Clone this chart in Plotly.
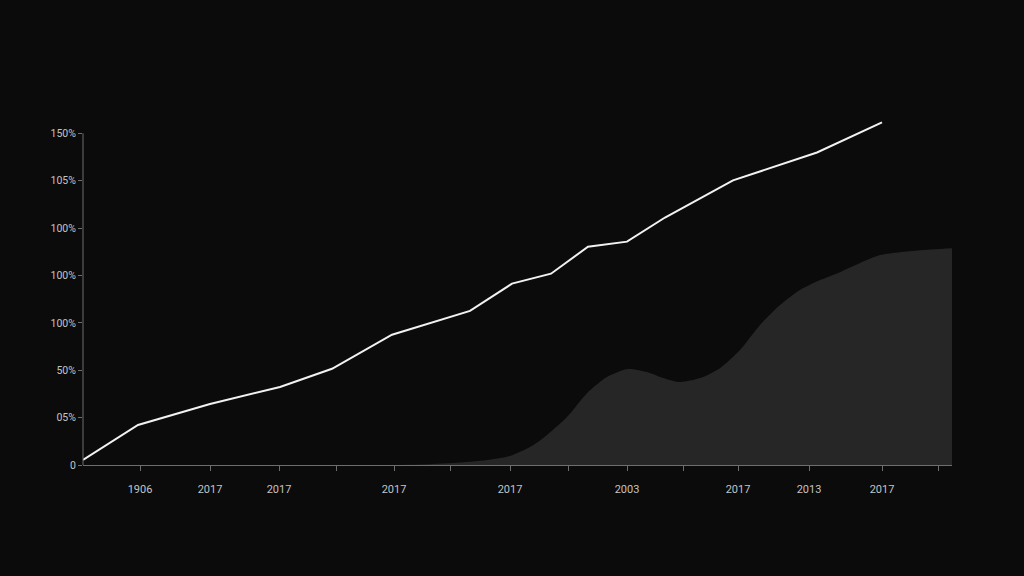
import plotly.graph_objects as go

# Line series (x position units, value in %)
line_x = [0, 5.5, 12.7, 19.7, 24.9, 30.9, 38.7, 42.9, 46.8, 50.5, 54.4, 58.2, 65.0, 73.4, 79.9]
line_y = [2.3, 18.1, 27.6, 35.3, 43.5, 58.9, 69.7, 82.0, 86.5, 98.7, 101.0, 111.9, 128.7, 141.3, 154.9]

# Area series
area_x = [0, 31.7, 37.0, 40.4, 42.7, 44.7, 46.4, 48.4, 50.4, 52.4, 54.5, 56.4, 57.7, 59.7, 61.7,
          63.7, 65.7, 67.7, 69.7, 71.7, 73.7, 75.7, 77.7, 79.7, 81.7, 83.7, 86.9]
area_y = [0, 0, 0.9, 2.3, 4.1, 8.1, 13.6, 21.7, 32.5, 39.8, 43.4, 42.0, 39.8, 37.5, 39.3,
          43.8, 52.0, 63.3, 72.3, 79.1, 83.6, 87.2, 91.3, 94.9, 96.2, 97.1, 98.0]

# Axis ticks
x_tickvals = [5.7, 12.7, 19.6, 25.3, 31.1, 36.7, 42.7, 48.5, 54.4, 60.0, 65.5, 72.6, 79.9, 85.5]
x_ticktext = ["1906", "2017", "2017", "", "2017", "", "2017", "", "2003", "", "2017", "2013", "2017", ""]
y_tickvals = [150 / 7 * k for k in range(8)]
y_ticktext = ["0", "05%", "50%", "100%", "100%", "100%", "105%", "150%"]

BG = "#0b0b0b"
AXIS = "#6e6e6e"
TXT = "#c4c4c4"

fig = go.Figure()
fig.add_trace(go.Scatter(
    x=area_x, y=area_y, mode="lines", fill="tozeroy",
    line=dict(color="#262626", width=0, shape="spline", smoothing=0.7),
    fillcolor="#262626", hoverinfo="skip", showlegend=False,
))
fig.add_trace(go.Scatter(
    x=line_x, y=line_y, mode="lines",
    line=dict(color="#f2f2f2", width=2),
    showlegend=False, cliponaxis=False,
))

# left axis line only up to the top tick
fig.add_shape(type="line", xref="paper", yref="y", x0=0, x1=0, y0=0, y1=150,
              line=dict(color=AXIS, width=1))

fig.update_layout(
    width=1024, height=576,
    paper_bgcolor=BG, plot_bgcolor=BG,
    margin=dict(l=83, r=72, t=120, b=111),
    font=dict(family="Roboto, DejaVu Sans, sans-serif", size=11, color=TXT),
    showlegend=False,
)
fig.update_xaxes(
    range=[0, 86.9], showgrid=False, zeroline=False,
    showline=True, linecolor=AXIS, linewidth=1,
    ticks="outside", ticklen=5, tickcolor=AXIS, tickwidth=1,
    tickvals=x_tickvals, ticktext=x_ticktext, ticklabelstandoff=9,
    tickfont=dict(size=11, color=TXT),
)
fig.update_yaxes(
    range=[0, 156], showgrid=False, zeroline=False, showline=False,
    ticks="outside", ticklen=4, tickcolor=AXIS, tickwidth=1,
    tickvals=y_tickvals, ticktext=y_ticktext,
    tickfont=dict(size=10.5, color=TXT),
)

fig.write_html(
    "out.html",
    config={"displayModeBar": False},
    post_script="document.body.style.margin='0';document.body.style.background='#0b0b0b';",
)
